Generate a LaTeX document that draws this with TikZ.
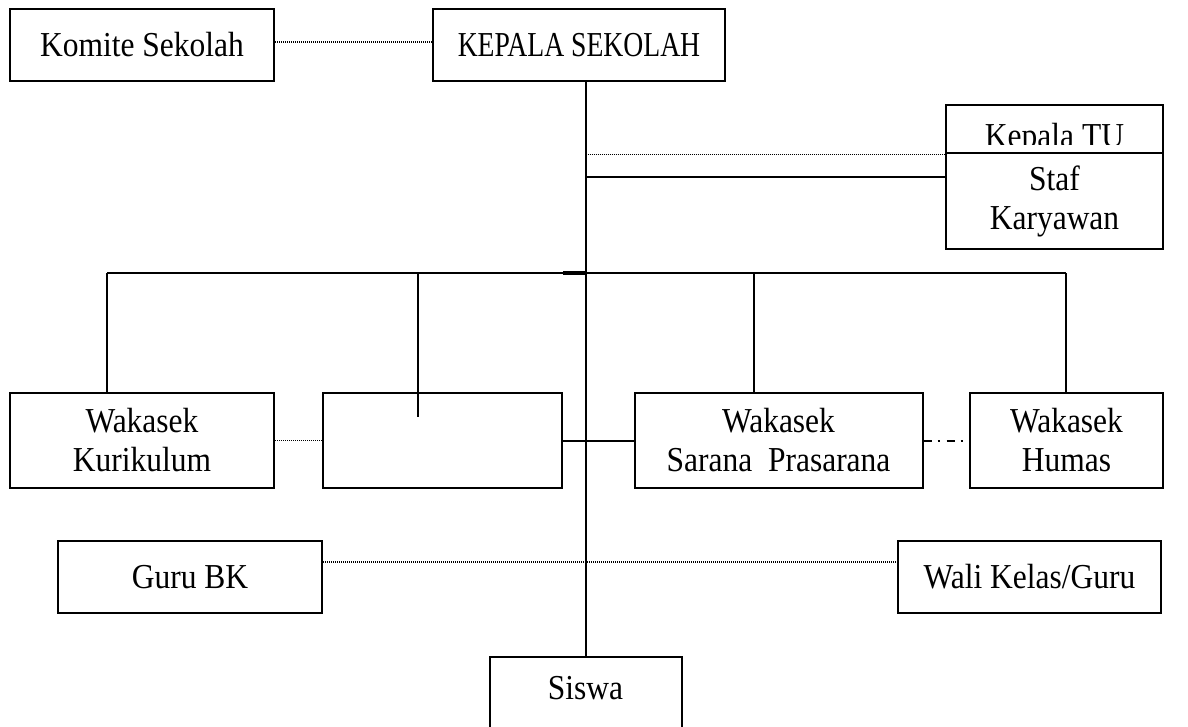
\documentclass[tikz,border=0pt]{standalone}
\usepackage{fontspec}
\setmainfont{Liberation Serif}[FakeStretch=0.9]
\newfontfamily\narrowserif{Liberation Serif}[FakeStretch=0.79]
\begin{document}
\begin{tikzpicture}[x=1pt,y=-1pt]
\tikzset{
  box/.style={draw, line width=2pt, inner sep=0pt, align=center,
    font=\fontsize{35}{39}\selectfont},
  conn/.style={line width=2pt},
  dots/.style={line width=1.1pt, dash pattern=on 1pt off 1pt},
  dashdot/.style={line width=2pt, dash pattern=on 8pt off 6pt on 2pt off 7pt},
  txt/.style={inner sep=0pt, font=\fontsize{35}{39}\selectfont}
}
\clip (0,0) rectangle (1188,726);
\fill[white] (0,0) rectangle (1188,726);

% nodes
\node[box, minimum width=264pt, minimum height=72pt] (komite) at (142,45) {Komite Sekolah};
\node[box, minimum width=292pt, minimum height=72pt,
      font=\narrowserif\fontsize{35}{39}\selectfont] (kepala) at (579,45) {KEPALA SEKOLAH};
\node[box, minimum width=217pt, minimum height=49pt] (tu) at (1054.5,129) {};
\begin{scope}
  \clip (946,104) rectangle (1163,144);
  \node[txt, anchor=base] (tutext) at (1054.5,147) {Kepala TU};
\end{scope}
\node[box, fill=white, minimum width=217pt, minimum height=96pt] (staf) at (1054.5,201) {Staf\\Karyawan};

\node[box, minimum width=264pt, minimum height=95pt] (kur) at (142,440.5) {Wakasek\\Kurikulum};
\node[box, minimum width=239pt, minimum height=95pt] (empty) at (442.5,440.5) {};
\node[box, minimum width=288pt, minimum height=95pt] (sarana) at (778.5,440.5) {Wakasek\\Sarana\ \ Prasarana};
\node[box, minimum width=193pt, minimum height=95pt] (humas) at (1066.5,440.5) {Wakasek\\Humas};

\node[box, minimum width=264pt, minimum height=72pt] (guru) at (190,577) {Guru BK};
\node[box, minimum width=263pt, minimum height=72pt] (wali) at (1029.5,577) {Wali Kelas/Guru};
\node[box, minimum width=192pt, minimum height=86pt, text depth=24pt] (siswa) at (585.5,700) {Siswa};

% connectors
\draw[dots] ([yshift=3pt]komite.east) -- ([yshift=3pt]kepala.west);
\draw[conn] (siswa.north |- kepala.south) -- (siswa.north);
\draw[dots] (siswa.north |- tu.south west) -- (tu.south west);
\draw[conn] (siswa.north |- staf.west) ++(0,-24) coordinate (s1) -- (s1 -| staf.west);

\coordinate (b1) at (107,273);
\coordinate (b2) at (418,273);
\coordinate (b3) at (754,273);
\coordinate (b4) at (1066,273);
\coordinate (b2e) at (418,417);
\draw[conn] (b1) -- (b4);
\draw[line width=3.2pt] (empty.east |- b1) -- (siswa.north |- b1);
\draw[conn] (b1) -- (b1 |- kur.north);
\draw[conn] (b2) -- (b2e);
\draw[conn] (b3) -- (b3 |- sarana.north);
\draw[conn] (b4) -- (b4 |- humas.north);

\draw[dots] (kur.east) -- (empty.west);
\draw[conn] (empty.east) -- (sarana.west);
\draw[dashdot] (sarana.east) -- (humas.west);
\draw[dots] ([yshift=15pt]guru.east) -- ([yshift=15pt]wali.west);
\end{tikzpicture}
\end{document}
